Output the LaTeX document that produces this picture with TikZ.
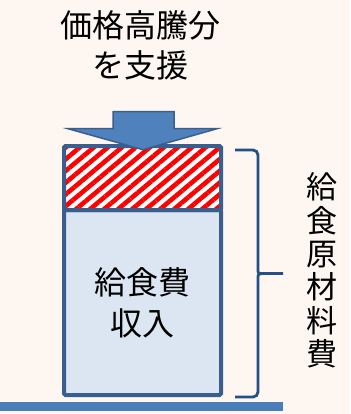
\documentclass[tikz,border=0pt]{standalone}
\usepackage{fontspec}
\setmainfont{Noto Sans CJK JP}
\usetikzlibrary{calc,patterns.meta}
\definecolor{paper}{HTML}{FDF6F1}
\definecolor{boxedge}{HTML}{3A5F8E}
\definecolor{boxfill}{HTML}{DCE6F2}
\definecolor{arrowfill}{HTML}{4F81BD}
\definecolor{bracecol}{HTML}{24508A}
\definecolor{basebar}{HTML}{4A7EBB}

\begin{document}
\begin{tikzpicture}[x=1pt,y=-1pt,
		jtext/.style={font=\fontsize{32}{40}\selectfont, align=center, inner sep=0pt},
		bar/.style={draw=boxedge, line width=4pt, rounded corners=1.5pt, minimum width=157pt}]
		\fill[paper] (0,0) rectangle (350,414);
		\useasboundingbox (0,0) rectangle (350,414);
		% stacked bar
		\node[bar, fill=boxfill, minimum height=185pt] (income) at (142.5,302.5) {};
		\node[bar, preaction={fill=white}, pattern={Lines[angle=40,distance=9pt,line width=4.6pt]}, pattern color=red, minimum height=64pt] (support) at (142.5,178) {};
		\node[jtext, font=\fontsize{32}{41}\selectfont] (incomelabel) at (income.center) {給食費\\収入};
		% arrow onto the top part
		\coordinate (tip) at ($(support.north)+(0.5,6)$);
		\filldraw[fill=arrowfill, draw=boxedge, line width=1.5pt, line join=miter]
			($(tip)+(-30,-38)$) -- ($(tip)+(31,-38)$) -- ($(tip)+(31,-21)$) -- ($(tip)+(74,-21)$)
			-- (tip) -- ($(tip)+(-75,-21)$) -- ($(tip)+(-30,-21)$) -- cycle;
		\node[jtext] (supportlabel) at (140,45.5) {価格高騰分\\を支援};
		% brace and side label
		\coordinate (btop) at (235,150);
		\coordinate (bbot) at (235,397);
		\coordinate (bmid) at (283,273.5);
		\draw[bracecol, line width=2.8pt, rounded corners=5pt]
			(btop) -- ($(btop)+(23,0)$) -- (258,264) .. controls (258,273.5) .. (268,273.5) -- (bmid);
		\draw[bracecol, line width=2.8pt, rounded corners=5pt]
			(bbot) -- ($(bbot)+(23,0)$) -- (258,283) .. controls (258,273.5) .. (268,273.5);
		\node[jtext, font=\fontsize{31}{33.4}\selectfont] (costlabel) at (322,270.5) {給\\食\\原\\材\\料\\費};
		% ground line
		\fill[basebar] (0,402) rectangle (283,411);
	\end{tikzpicture}
\end{document}
